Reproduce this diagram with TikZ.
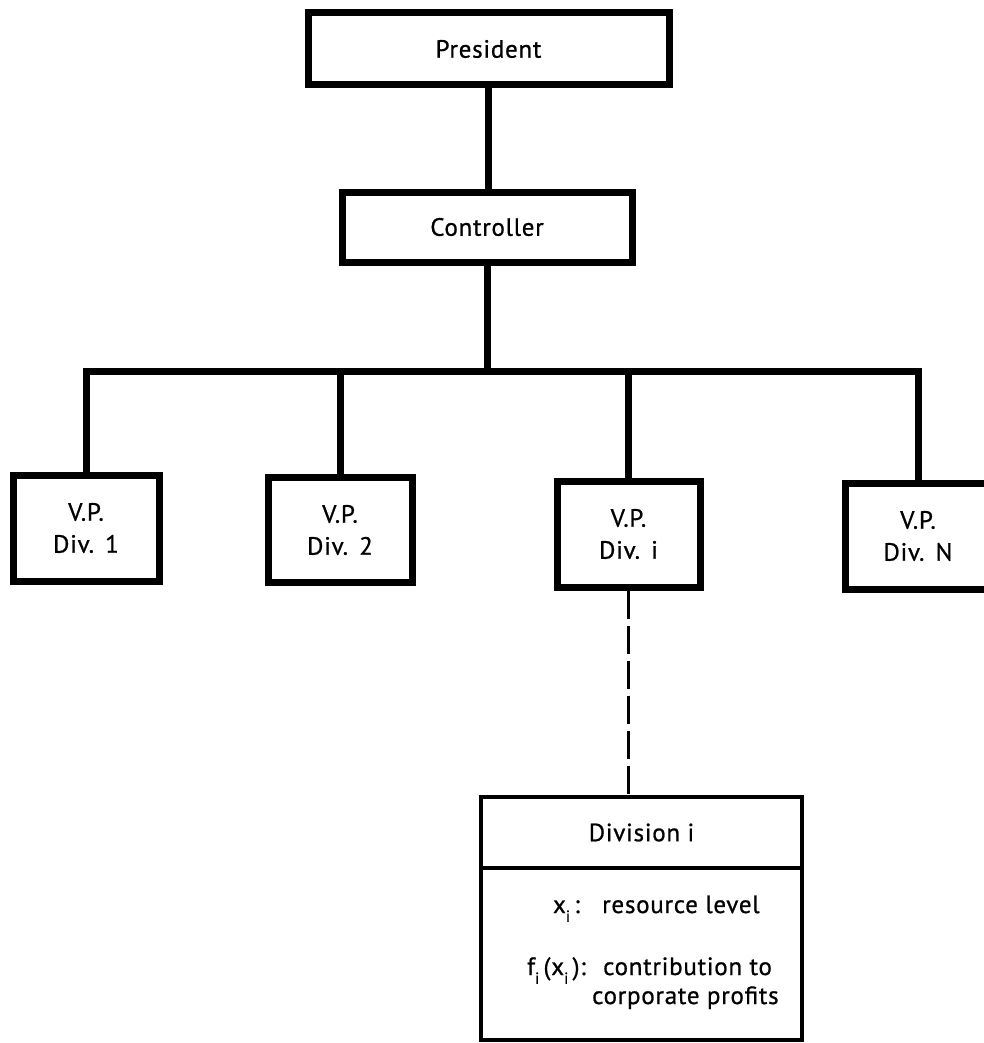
\documentclass[tikz,border=0pt]{standalone}
\usepackage{fontspec}
\setmainfont{PT Sans}[LetterSpace=3,FakeBold=0.8]
\newcommand\lowi{\raisebox{-0.7ex}{\fontsize{16}{16}\selectfont i}}
\begin{document}
\begin{tikzpicture}[x=1pt,y=-1pt,
  box/.style={draw, line width=7pt, inner sep=0pt, align=center, font=\fontsize{25}{32}\selectfont},
  vpbox/.style={box, font=\fontsize{25}{32}\selectfont},
  conn/.style={line width=7pt},
  divbox/.style={draw, line width=3.5pt, inner sep=0pt, font=\fontsize{25}{28}\selectfont},
  lbl/.style={inner sep=0pt, font=\fontsize{25}{28}\selectfont},
  dashln/.style={line width=3.5pt, dash pattern=on 28pt off 7pt}]
\fill[white] (0,0) rectangle (984,1043);
\useasboundingbox (0,0) rectangle (984,1043);
% top boxes
\node[box, minimum width=361pt, minimum height=72pt] (pres) at (488.5,49) {President};
\node[box, minimum width=290pt, minimum height=70pt] (ctrl) at (487,227) {Controller};
% VP boxes
\node[vpbox, minimum width=146pt, minimum height=106pt] (vp1) at (86,528) {V.P.\\Div.\hspace{0.45em}1};
\node[vpbox, minimum width=144pt, minimum height=105pt] (vp2) at (340,530) {V.P.\\Div.\hspace{0.45em}2};
\node[vpbox, minimum width=143pt, minimum height=106pt] (vpi) at (628.5,534) {V.P.\\Div.\hspace{0.45em}i};
\node[vpbox, minimum width=146pt, minimum height=106pt] (vpN) at (918,536) {V.P.\\Div.\hspace{0.45em}N};
% division box
\node[divbox, minimum width=321pt, minimum height=71pt] (divhead) at (641.5,832.5) {Division i};
\node[divbox, minimum width=321pt, minimum height=172pt] (divbody) at (641.5,954) {};
\node[lbl, anchor=base east] (xl) at (580,913) {x\lowi\,:};
\node[lbl, anchor=base west] (xr) at (602,913) {resource level};
\node[lbl, anchor=base east] (fl) at (586,975) {f\lowi\,(x\lowi\,):};
\node[lbl, anchor=base west] (fr) at (603,975) {contribution to};
\node[lbl, anchor=base west] (fr2) at (592,1004) {corporate profits};
% connectors
\coordinate (bar) at (487,371);
\draw[conn] (pres.south) -- (pres.south |- ctrl.north);
\draw[conn] (ctrl.south) -- (bar);
\draw[conn, line join=miter] (vp1.north) -- (vp1.north |- bar) -- (vpN.north |- bar) -- (vpN.north);
\draw[conn] (vp2.north) -- (vp2.north |- bar);
\draw[conn] (vpi.north) -- (vpi.north |- bar);
\draw[dashln] (vpi.south) -- (vpi.south |- divhead.north);
\end{tikzpicture}
\end{document}
